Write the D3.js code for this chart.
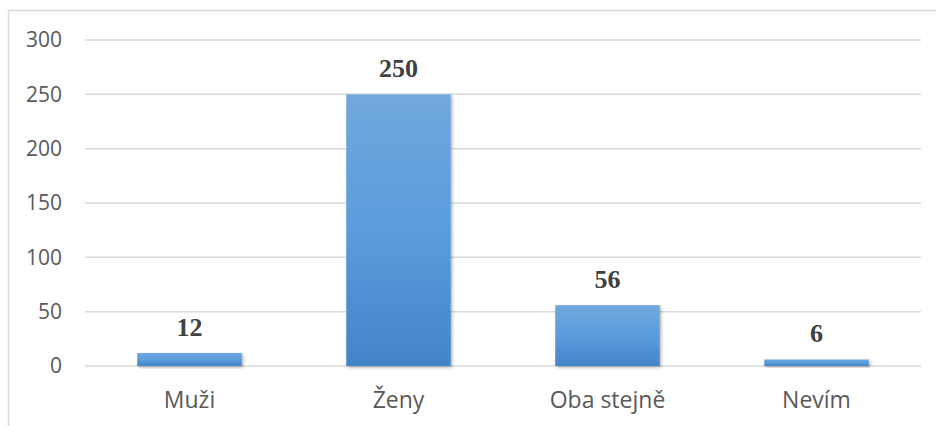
<!DOCTYPE html>
<html>
<head>
<meta charset="utf-8">
<script src="https://cdn.jsdelivr.net/npm/d3@7"></script>
<style>
    body { margin: 0; background: #fff; }
    svg { display: block; }
</style>
</head>
<body>
<div id="chart"></div>
<script>
const categories = ["Muži", "Ženy", "Oba stejně", "Nevím"];
const values = [12, 250, 56, 6];
const yTicks = [0, 50, 100, 150, 200, 250, 300];

const width = 936, height = 426;
const margin = { top: 40, right: 15, bottom: 60, left: 85 };

const svg = d3.select("#chart").append("svg")
    .attr("width", width)
    .attr("height", height);

// gradient + shadow for the bars
const defs = svg.append("defs");
const grad = defs.append("linearGradient")
    .attr("id", "barGrad")
    .attr("x1", 0).attr("y1", 0).attr("x2", 0).attr("y2", 1);
grad.append("stop").attr("offset", "0%").attr("stop-color", "#71a8dd");
grad.append("stop").attr("offset", "50%").attr("stop-color", "#5a9cdc");
grad.append("stop").attr("offset", "100%").attr("stop-color", "#4285c8");

const shadow = defs.append("filter")
    .attr("id", "shadow")
    .attr("x", "-10%").attr("y", "-10%")
    .attr("width", "130%").attr("height", "130%");
shadow.append("feDropShadow")
    .attr("dx", 1.5).attr("dy", 1.5)
    .attr("stdDeviation", 1.5)
    .attr("flood-color", "#000")
    .attr("flood-opacity", 0.3);

// outer frame (only top and left edges fall inside the picture)
svg.append("rect")
    .attr("x", 8.5).attr("y", 10.5)
    .attr("width", 1000).attr("height", 1000)
    .attr("fill", "none")
    .attr("stroke", "#d9d9d9")
    .attr("stroke-width", 1.5);

const x = d3.scaleBand()
    .domain(categories)
    .range([margin.left, width - margin.right])
    .paddingInner(0.5)
    .paddingOuter(0.25);

const y = d3.scaleLinear()
    .domain([0, 300])
    .range([366, 40]);

// grid
svg.append("g")
    .selectAll("line")
    .data(yTicks)
    .join("line")
    .attr("x1", margin.left)
    .attr("x2", 921)
    .attr("y1", d => y(d))
    .attr("y2", d => y(d))
    .attr("stroke", "#d9d9d9")
    .attr("stroke-width", 1.5);

// y axis labels
const yAxis = svg.append("g")
    .attr("transform", `translate(${margin.left},0)`)
    .call(d3.axisLeft(y).tickValues(yTicks).tickSize(0).tickPadding(23));
yAxis.select(".domain").remove();
yAxis.selectAll("text")
    .attr("font-family", "'Open Sans', sans-serif")
    .attr("font-size", 21)
    .attr("fill", "#595959");

// bars
svg.append("g")
    .selectAll("rect")
    .data(values)
    .join("rect")
    .attr("x", (d, i) => x(categories[i]))
    .attr("y", d => y(d))
    .attr("width", x.bandwidth())
    .attr("height", d => y(0) - y(d))
    .attr("fill", "url(#barGrad)")
    .attr("filter", "url(#shadow)");

// value labels
svg.append("g")
    .selectAll("text")
    .data(values)
    .join("text")
    .attr("x", (d, i) => x(categories[i]) + x.bandwidth() / 2)
    .attr("y", d => y(d) - 17)
    .attr("text-anchor", "middle")
    .attr("font-family", "'Liberation Serif', 'Times New Roman', serif")
    .attr("font-weight", "bold")
    .attr("font-size", 26)
    .attr("fill", "#404040")
    .text(d => d);

// category labels
const xAxis = svg.append("g")
    .attr("transform", `translate(0,${y(0)})`)
    .call(d3.axisBottom(x).tickSize(0).tickPadding(26));
xAxis.select(".domain").remove();
xAxis.selectAll("text")
    .attr("font-family", "'Open Sans', sans-serif")
    .attr("font-size", 23)
    .attr("fill", "#595959");
</script>
</body>
</html>
